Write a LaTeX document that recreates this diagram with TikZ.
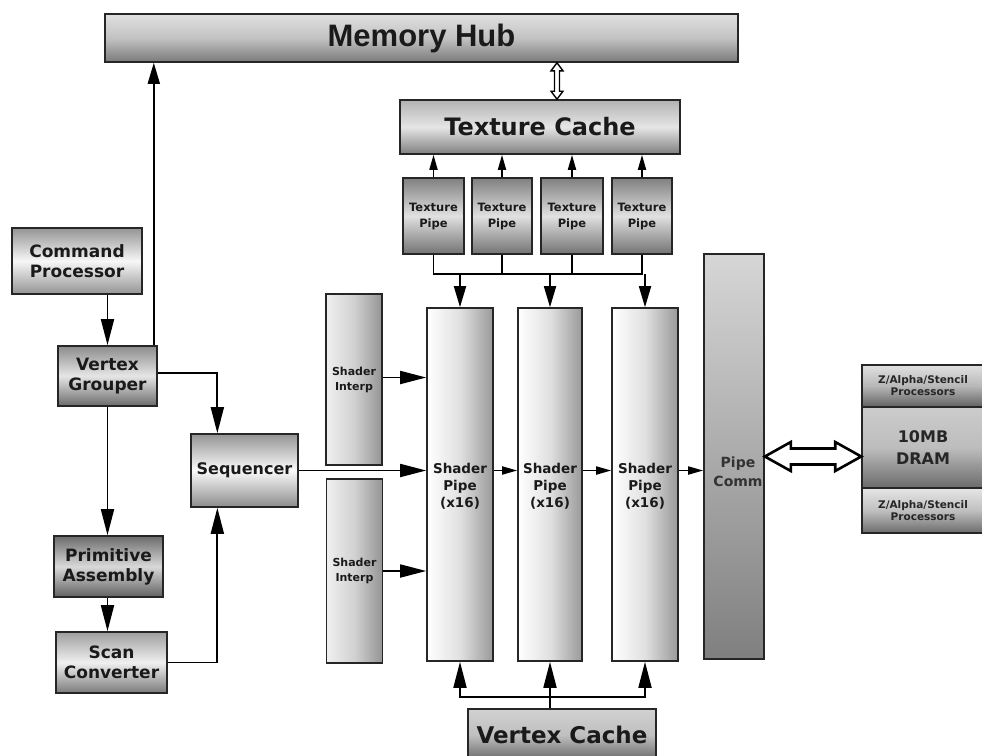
\documentclass[tikz,border=0pt]{standalone}
\usepackage{fontspec}
\setmainfont{DejaVu Sans}
\newfontfamily\hubfont{Liberation Sans}
\usetikzlibrary{arrows.meta,calc}
\definecolor{ink}{HTML}{1A1A1A}
\newcommand\setfz[2]{\fontsize{#1}{#2}\selectfont}
\tikzset{
  box/.style={draw=black!85, line width=1.6pt, inner sep=0pt, align=center, text=ink},
  conn/.style={line width=1.8pt, draw=black},
  arr/.style={conn, -{Triangle[length=26pt,width=13pt]}},
  arrm/.style={conn, -{Triangle[length=21pt,width=12pt]}},
  arrs/.style={conn, -{Triangle[length=15pt,width=8pt]}},
  lbox/.style={box, font=\bfseries\setfz{17}{20}, top color=black!45, bottom color=black!50, middle color=black!4},
  tpipe/.style={box, minimum width=61pt, minimum height=76pt, font=\bfseries\setfz{11.5}{16},
     top color=black!50, bottom color=black!55, middle color=black!12},
  spipe/.style={box, minimum width=66pt, minimum height=353pt, left color=white, right color=black!40, middle color=black!12},
  sinterp/.style={box, minimum width=56pt, font=\bfseries\setfz{11}{15}, left color=black!6, right color=black!42, middle color=black!18},
  sptext/.style={align=center, text=ink, font=\bfseries\setfz{13.5}{17}, inner sep=0pt},
  zbox/.style={box, minimum width=122pt, font=\bfseries\setfz{10.5}{12}, text=black!85},
}
\begin{document}
\begin{tikzpicture}[x=1pt,y=-1pt]
\useasboundingbox (0,0) rectangle (982,755);

% ---- boxes ----
\node[box, minimum width=633pt, minimum height=48pt, top color=black!12, bottom color=black!52, middle color=black!24,
      font=\hubfont\bfseries\setfz{31}{34}] (hub) at (421.5,38) {Memory Hub};
\node[box, minimum width=280pt, minimum height=54pt, top color=black!30, bottom color=black!50, middle color=black!10,
      font=\bfseries\setfz{24}{28}] (tc) at (540,127) {Texture Cache};

\node[tpipe] (tp1) at (433.5,216) {Texture\\Pipe};
\node[tpipe, minimum width=60pt] (tp2) at (502,216) {Texture\\Pipe};
\node[tpipe, minimum width=62pt] (tp3) at (572,216) {Texture\\Pipe};
\node[tpipe, minimum width=60pt] (tp4) at (642,216) {Texture\\Pipe};

\node[lbox, minimum width=130pt, minimum height=66pt, top color=black!42, bottom color=black!42, middle color=black!3] (cp) at (77,261) {Command\\Processor};
\node[lbox, minimum width=99pt, minimum height=60pt, top color=black!45, bottom color=black!58, middle color=black!10] (vg) at (107.5,376) {Vertex\\Grouper};
\node[lbox, minimum width=107pt, minimum height=73pt, font=\bfseries\setfz{16}{19}, top color=black!42, bottom color=black!45, middle color=black!2] (seq) at (244.5,470.5) {Sequencer};
\node[lbox, minimum width=109pt, minimum height=61pt, top color=black!58, bottom color=black!62, middle color=black!15] (pa) at (108.5,566.5) {Primitive\\Assembly};
\node[lbox, minimum width=111pt, minimum height=61pt, top color=black!38, bottom color=black!52, middle color=black!6] (sc) at (111.5,662.5) {Scan\\Converter};

\node[sinterp, minimum height=171pt] (si1) at (354,379.5) {Shader\\Interp};
\node[sinterp, minimum height=184pt] (si2) at (354.5,571) {Shader\\Interp};

\node[spipe] (sp1) at (460,484.5) {};
\node[spipe, minimum width=64pt] (sp2) at (550,484.5) {};
\node[spipe] (sp3) at (645,484.5) {};
\coordinate (sptxt) at (0,486);
\node[sptext] (sp1t) at (sp1 |- sptxt) {Shader\\Pipe\\(x16)};
\node[sptext] (sp2t) at (sp2 |- sptxt) {Shader\\Pipe\\(x16)};
\node[sptext] (sp3t) at (sp3 |- sptxt) {Shader\\Pipe\\(x16)};

\node[box, minimum width=60pt, minimum height=405pt, top color=black!16, bottom color=black!50] (pc) at (734,456.5) {};
\node[align=center, inner sep=0pt, text=black!80, font=\bfseries\setfz{14}{19}] (pct) at ($(pc.center)+(4,15)$) {Pipe\\Comm};

\node[box, minimum width=188pt, minimum height=52pt, top color=black!18, bottom color=black!60, middle color=black!25,
      font=\bfseries\setfz{23}{27}] (vc) at (562,735) {Vertex Cache};

\node[zbox, minimum height=42pt, top color=black!12, bottom color=black!62, middle color=black!28] (za1) at (923,386) {Z/Alpha/Stencil\\Processors};
\node[box, minimum width=122pt, minimum height=81pt, top color=black!20, bottom color=black!58, middle color=black!26,
      font=\bfseries\setfz{16}{22}, text=black!85] (dram) at (923,447.5) {10MB\\DRAM};
\node[zbox, minimum height=45pt, top color=black!10, bottom color=black!58, middle color=black!25] (za2) at (923,510.5) {Z/Alpha/Stencil\\Processors};

% ---- connectors ----
\draw[arr] (cp.south -| vg.north) -- (vg.north);
\coordinate (vgup) at ($(vg.north east)+(-4,0)$);
\draw[arrm] (vgup) -- (vgup |- hub.south);
\coordinate (seqin) at ($(seq.north west)!0.25!(seq.north east)$);
\draw[arr] ($(vg.east)+(0,-3)$) -| (seqin);
\draw[arr] (vg.south) -- (vg.south |- pa.north);
\draw[arr] (pa.south -| vg.south) -- (vg.south |- sc.north);
\coordinate (seqbot) at ($(seq.south west)!0.25!(seq.south east)$);
\draw[arr] (sc.east) -| (seqbot);

\draw[arr] (seq.east) -- (seq.east -| sp1.west);
\draw[arr] ($(si1.east)+(0,-2)$) -- ($(si1.east -| sp1.west)+(0,-2)$);
\draw[arr] (si2.east) -- (si2.east -| sp1.west);
\draw[arrs] (seq.east -| sp1.east) -- (seq.east -| sp2.west);
\draw[arrs] (seq.east -| sp2.east) -- (seq.east -| sp3.west);
\draw[arrs] (seq.east -| sp3.east) -- (seq.east -| pc.west);

\foreach \t in {tp1,tp2,tp3,tp4} \draw[arrs] (\t.north) -- (\t.north |- tc.south);
\coordinate (tbus) at (0,274);
\foreach \t in {tp1,tp2,tp3,tp4} \draw[conn] (\t.south) -- (\t.south |- tbus);
\draw[conn, line cap=rect] (tp1.south |- tbus) -- (tp4.south |- tbus);
\foreach \s in {sp1,sp2,sp3} \draw[arrm] (\s.north |- tbus) -- (\s.north);

\coordinate (vbus) at (0,697);
\draw[conn, line cap=rect] (sp1.south |- vbus) -- (sp3.south |- vbus);
\draw[arr] (vc.north -| sp2.south) -- (sp2.south);
\draw[arr] (sp1.south |- vbus) -- (sp1.south);
\draw[arr] (sp3.south |- vbus) -- (sp3.south);

% hollow double arrows
\coordinate (dx) at (557,0);
\coordinate (dt) at (hub.south -| dx);
\coordinate (db) at (tc.north -| dx);
\draw[line width=1.4pt, fill=white] (dt) -- ++(6,8) -- ++(-3.5,0) -- ($(db)+(2.5,-8)$) -- ++(3.5,0) -- (db)
   -- ++(-6,-8) -- ++(3.5,0) -- ($(dt)+(-2.5,8)$) -- ++(-3.5,0) -- cycle;

\coordinate (dl) at (pc.east);
\coordinate (dr) at (pc.east -| dram.west);
\draw[line width=2.6pt, fill=white] (dl) -- ++(26,-14.5) -- ++(0,6.5) -- ($(dr)+(-26,-8)$) -- ++(0,-6.5) -- (dr)
   -- ++(-26,14.5) -- ++(0,-6.5) -- ($(dl)+(26,8)$) -- ++(0,6.5) -- cycle;
\end{tikzpicture}
\end{document}
